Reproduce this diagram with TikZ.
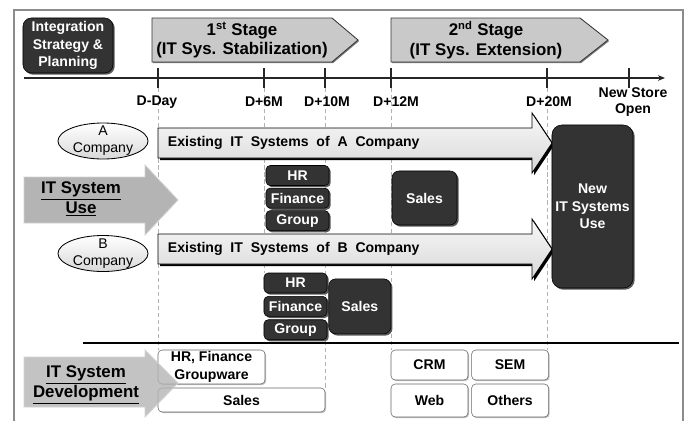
\documentclass[tikz,border=0pt]{standalone}
\usepackage{fontspec}
\setmainfont{Liberation Sans}
\usetikzlibrary{arrows.meta,positioning,shapes.geometric,shadows,backgrounds}
\definecolor{BoxDark}{HTML}{333333}
\definecolor{StageGray}{HTML}{C9C9C9}
\definecolor{FrameGray}{HTML}{8C8C8C}
\definecolor{UseGray}{HTML}{B4B4B4}

\begin{document}
\begin{tikzpicture}[x=0.025cm,y=-0.025cm,node distance=0.05cm]
  \tikzset{
    darkbox/.style={rounded corners=3pt,fill=BoxDark,draw=black,text=white,align=center,inner sep=0pt,
      font=\fontsize{10}{12.5}\selectfont\bfseries,
      drop shadow={shadow xshift=1.2pt,shadow yshift=-1.2pt,fill=black!65,opacity=1}},
    sysbox/.style={darkbox,minimum width=1.575cm,minimum height=0.5cm},
    devbox/.style={rounded corners=3pt,fill=white,draw=black!60,align=center,inner sep=0pt,
      font=\fontsize{10}{12.5}\selectfont\bfseries,
      drop shadow={shadow xshift=0.8pt,shadow yshift=-0.8pt,fill=black!25,opacity=1}},
    stagearrow/.style={fill=StageGray,draw=black!80,line width=0.6pt,
      drop shadow={shadow xshift=0.8pt,shadow yshift=-0.8pt,fill=black!50,opacity=1}},
    stagelbl/.style={align=center,font=\fontsize{12}{14}\selectfont\bfseries},
    existarrow/.style={top color=gray!6,bottom color=gray!30,draw=black,line width=0.6pt,
      drop shadow={shadow xshift=1.5pt,shadow yshift=-1.5pt,fill=black,opacity=1}},
    existlbl/.style={anchor=west,font=\fontsize{10}{12}\selectfont\bfseries},
    usearrow/.style={fill=UseGray,draw=gray!35,line width=0.6pt},
    uselbl/.style={align=center,font=\fontsize{12}{14}\selectfont\bfseries},
    company/.style={ellipse,draw=black,line width=0.6pt,top color=white,bottom color=gray!30,
      minimum width=2.25cm,minimum height=0.9cm,inner xsep=0pt,inner ysep=-2pt,align=center,
      font=\fontsize{10}{12}\selectfont},
    datelbl/.style={align=center,font=\fontsize{10}{12}\selectfont\bfseries},
    tick/.style={line width=0.9pt,black!85},
    guide/.style={densely dashed,gray!60,line width=0.5pt},
    frame/.style={FrameGray,line width=1pt}
  }
  \useasboundingbox (0,0) rectangle (689,421);
  \draw[frame] (14,421) -- (14,10) -- (683,10) -- (683,421);

  % planning and stages
  \node[darkbox,minimum width=2.25cm,minimum height=1.375cm,rounded corners=6pt] (plan) at (68,45.5) {Integration\\Strategy \&\\Planning};
  \path[stagearrow] (152,18) -- (332,18) -- (358,40) -- (332,62) -- (152,62) -- cycle;
  \node[stagelbl] (stage1) at (242,40) {1\textsuperscript{st} Stage\\(IT Sys. Stabilization)};
  \path[stagearrow] (391,18) -- (580,18) -- (608,40) -- (580,62) -- (391,62) -- cycle;
  \node[stagelbl] (stage2) at (486,40) {2\textsuperscript{nd} Stage\\(IT Sys. Extension)};

  % time line
  \coordinate (tlL) at (24,78);
  \coordinate (tlR) at (665,78);
  \draw[tick,-{Stealth[length=5pt,width=4pt]}] (tlL) -- (tlR);
  \foreach \nm/\px/\lx/\lbl in {t0/158/157/D-Day,t1/264/264/D+6M,t2/325/327/D+10M,t3/391/396/D+12M,t4/547/549/D+20M,t5/629/633/{New Store\\Open}} {
    \coordinate (\nm) at (\px,78);
    \draw[tick] (\nm) ++(0,-10) -- ++(0,20);
    \node[datelbl] (\nm lbl) at (\lx,102) {\lbl};
  }

  % IT system use
  \node[company] (coA) at (103,141) {A\\Company};
  \node[company] (coB) at (103,253.5) {B\\Company};
  \path[existarrow] (158,128) -- (532,128) -- (532,113) -- (552,143) -- (532,173) -- (532,158) -- (158,158) -- cycle;
  \node[existlbl] (exA) at (163,143) {Existing~ IT~ Systems~ of~ A~ Company};
  \path[existarrow] (158,234) -- (532,234) -- (532,219) -- (552,249) -- (532,279) -- (532,264) -- (158,264) -- cycle;
  \node[existlbl] (exB) at (163,249) {Existing~ IT~ Systems~ of~ B~ Company};
  \path[usearrow] (24,177) -- (145,177) -- (145,165) -- (178,200) -- (145,235) -- (145,223) -- (24,223) -- cycle;
  \node[uselbl] (uselbl) at (81,199) {\underline{IT System}\\\underline{Use}};

  \node[sysbox] (hrA) at (297.5,175.5) {HR};
  \node[sysbox,below=of hrA] (finA) {Finance};
  \node[sysbox,below=of finA] (grpA) {Group};
  \node[darkbox,minimum width=1.625cm,minimum height=1.35cm,rounded corners=5pt] (salesA) at (424.5,198) {Sales};

  \node[sysbox] (hrB) at (295.5,283) {HR};
  \node[sysbox,below=0.07cm of hrB] (finB) {Finance};
  \node[sysbox,below=0.07cm of finB] (grpB) {Group};
  \node[darkbox,minimum width=1.55cm,minimum height=1.375cm,rounded corners=5pt,right=0.03cm of finB] (salesB) {Sales};

  \node[darkbox,minimum width=2.025cm,minimum height=4.075cm,rounded corners=7pt] (newit) at (592.5,206.5) {New\\IT Systems\\Use};

  \coordinate (sepL) at (83,343);
  \coordinate (sepR) at (679,343);
  \draw[line width=1.2pt] (sepL) -- (sepR);

  % IT system development
  \node[devbox,minimum width=2.675cm,minimum height=0.85cm] (hrfg) at (211.5,367) {HR, Finance\\Groupware};
  \node[devbox,minimum width=4.175cm,minimum height=0.6cm] (salesdev) at (241.5,400) {Sales};
  \node[devbox,minimum width=1.925cm,minimum height=0.75cm] (crm) at (429.5,365) {CRM};
  \node[devbox,minimum width=1.925cm,minimum height=0.75cm,right=0.075cm of crm] (sem) {SEM};
  \node[devbox,minimum width=1.925cm,minimum height=0.825cm] (web) at (429.5,400.5) {Web};
  \node[devbox,minimum width=1.925cm,minimum height=0.825cm,right=0.075cm of web] (others) {Others};
  \path[usearrow,fill opacity=0.8] (24,357) -- (145,357) -- (145,350) -- (178,383) -- (145,417) -- (145,407) -- (24,407) -- cycle;
  \node[uselbl] (devlbl) at (86,385) {\underline{IT System}\\\underline{Development}};

  % dashed guides
  \begin{scope}[on background layer]
    \draw[guide] (t0) ++(0,10) -- (t0 |- hrfg.north);
    \draw[guide] (t1) ++(0,10) -- (t1 |- hrB.north);
    \draw[guide] (t2) ++(0,10) -- (t2 |- salesdev.north);
    \draw[guide] (t3) ++(0,10) -- (t3 |- crm.north);
    \draw[guide] (t4) ++(0,10) -- (t4 |- sem.north);
  \end{scope}
\end{tikzpicture}
\end{document}
